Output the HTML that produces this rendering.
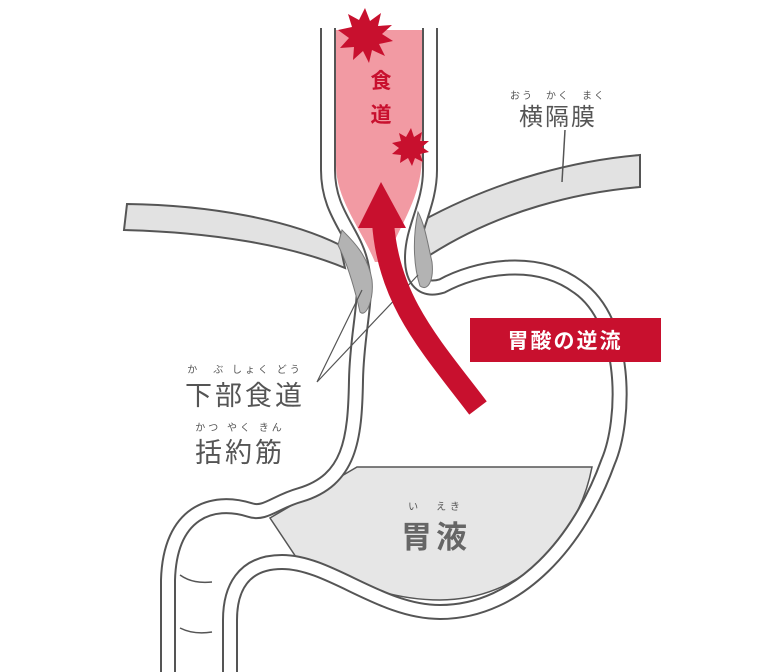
<!DOCTYPE html>
<html><head><meta charset="utf-8"><style>
html,body{margin:0;padding:0;background:#fff;}
svg{display:block;}
text{font-family:"Liberation Sans","Noto Sans CJK JP",sans-serif;}
</style></head><body>
<svg width="768" height="672" viewBox="0 0 768 672" xmlns="http://www.w3.org/2000/svg">
<!-- stomach fluid -->
<path d="M357,467 L592,467 C578,540 520,600 440,600 C380,600 340,575 298,560 L270,518 Z" fill="#e6e6e6" stroke="#555" stroke-width="1.5"/>
<!-- pink esophagus -->
<path d="M336,30 L422,30 L422,160 C420,200 400,225 385,262 L375,262 C362,230 336,200 336,165 Z" fill="#f29aa3"/>
<!-- diaphragm -->
<path d="M127,204 C210,205 290,220 340,245 L345,268 C290,245 210,232 124,230 Z" fill="#e2e2e2" stroke="#555" stroke-width="2"/>
<path d="M420,222 C500,178 580,160 640,155 L640,187 C580,192 500,210 430,255 Z" fill="#e2e2e2" stroke="#555" stroke-width="2"/>
<!-- walls: double line trick -->
<g fill="none" stroke-linecap="butt">
<path id="wa" d="M328,28 L328,170 C328,215 356,232 362,268 C368,300 357,330 356,380 C355,440 350,480 300,495 C275,502 265,515 250,510 C212,498 170,512 168,580 L168,672" stroke="#555" stroke-width="16"/>
<path d="M328,28 L328,170 C328,215 356,232 362,268 C368,300 357,330 356,380 C355,440 350,480 300,495 C275,502 265,515 250,510 C212,498 170,512 168,580 L168,672" stroke="#fff" stroke-width="12"/>
<path d="M430,28 L430,170 C430,205 412,228 412,258 C412,280 422,292 442,286 C475,268 535,255 578,287 C628,322 626,420 608,462 C580,540 520,612 440,612 C380,612 330,562 282,562 C242,562 230,590 230,620 L230,672" stroke="#555" stroke-width="16"/>
<path d="M430,28 L430,170 C430,205 412,228 412,258 C412,280 422,292 442,286 C475,268 535,255 578,287 C628,322 626,420 608,462 C580,540 520,612 440,612 C380,612 330,562 282,562 C242,562 230,590 230,620 L230,672" stroke="#fff" stroke-width="12"/>
</g>
<!-- re-draw pink inside esophagus above walls inner -->
<path d="M337,30 L421,30 L421,160 C419,200 400,225 385,262 L375,262 C362,230 337,200 337,165 Z" fill="#f29aa3"/>
<!-- duodenum marks -->
<path d="M180,575 C190,582 200,583 212,582 M180,628 C190,633 200,634 212,632" stroke="#555" stroke-width="1.5" fill="none"/>
<!-- sphincter muscles -->
<path d="M342,230 C352,240 368,255 372,280 C374,300 366,318 360,312 C355,290 348,265 338,245 Z" fill="#b3b3b3" stroke="#777" stroke-width="1"/>
<path d="M418,212 C425,225 428,245 432,262 C434,280 428,292 420,286 C414,268 412,240 418,212 Z" fill="#b3b3b3" stroke="#777" stroke-width="1"/>
<!-- leader lines -->
<path d="M317,382 L362,290 M317,382 L418,275" stroke="#555" stroke-width="1.2"/>
<path d="M565,130 L562,182" stroke="#555" stroke-width="1.5"/>
<!-- red arrow -->
<path d="M478,408 C430,345 388,300 383,222" stroke="#c8102e" stroke-width="22" fill="none"/>
<polygon points="381,182 406,228 358,228" fill="#c8102e"/>
<!-- starbursts -->
<polygon fill="#c8102e" points="365,8 370,21 381,13 378,26 392,25 382,34 393,41 379,44 385,56 372,50 369,63 363,51 353,60 354,47 340,48 349,38 338,30 352,27 348,14 359,20"/>
<polygon fill="#c8102e" points="411,128 414,137 422,132 420,141 429,141 422,147 429,152 420,154 423,162 415,158 412,166 408,158 400,163 401,155 392,154 399,148 392,143 401,141 399,133 406,137"/>
<!-- labels -->
<text x="381" y="88" text-anchor="middle" font-size="21" font-weight="bold" fill="#c8102e">食</text>
<text x="381" y="122" text-anchor="middle" font-size="21" font-weight="bold" fill="#c8102e">道</text>
<rect x="470" y="318" width="191" height="44" fill="#c8102e"/>
<text x="565" y="348" text-anchor="middle" font-size="21" font-weight="bold" fill="#fff" letter-spacing="2">胃酸の逆流</text>
<text x="558" y="99" text-anchor="middle" font-size="10" fill="#555" letter-spacing="2">おう　かく　まく</text>
<text x="558" y="125" text-anchor="middle" font-size="24" fill="#555" letter-spacing="2">横隔膜</text>
<text x="245" y="373" text-anchor="middle" font-size="10" fill="#555" letter-spacing="3">か　ぶ しょく どう</text>
<text x="245" y="405" text-anchor="middle" font-size="27" fill="#555" letter-spacing="3">下部食道</text>
<text x="240" y="431" text-anchor="middle" font-size="10" fill="#555" letter-spacing="3">かつ やく きん</text>
<text x="240" y="462" text-anchor="middle" font-size="27" fill="#555" letter-spacing="3">括約筋</text>
<text x="436" y="510" text-anchor="middle" font-size="10" fill="#555" letter-spacing="4">い　えき</text>
<text x="436" y="548" text-anchor="middle" font-size="31" font-weight="bold" fill="#666" letter-spacing="4">胃液</text>
</svg>
</body></html>
